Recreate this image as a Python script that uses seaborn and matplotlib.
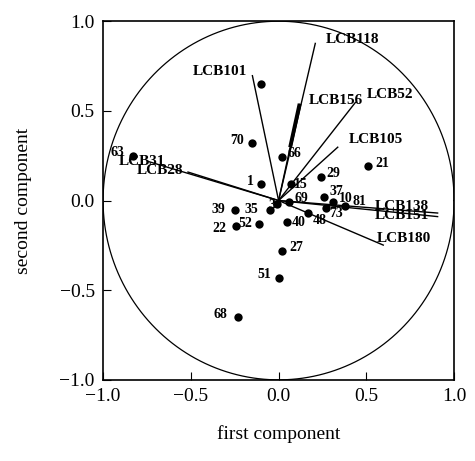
import numpy as np
import pandas as pd
import seaborn as sns
import matplotlib.pyplot as plt

# scores (observations)
obs_ids = ['7', '70', '63', '66', '21', '29', '1', '15', '39', '22', '52', '35', '3',
           '69', '37', '10', '73', '81', '40', '48', '27', '51', '68']
obs_x = [-0.10, -0.15, -0.83, 0.02, 0.51, 0.24, -0.10, 0.07, -0.25, -0.245, -0.11, -0.05, -0.01,
         0.06, 0.26, 0.31, 0.27, 0.38, 0.05, 0.17, 0.02, 0.005, -0.23]
obs_y = [0.65, 0.32, 0.25, 0.24, 0.19, 0.13, 0.09, 0.09, -0.05, -0.14, -0.13, -0.05, -0.02,
         -0.01, 0.02, -0.01, -0.04, -0.03, -0.12, -0.07, -0.28, -0.43, -0.65]

# loadings (variables)
var_names = ['LCB118', 'LCB101', 'LCB156', 'LCB52', 'LCB105', 'LCB31', 'LCB28',
             'LCB138', 'LCB151', 'LCB180']
var_x = [0.21, -0.15, 0.12, 0.44, 0.34, -0.75, -0.52, 0.91, 0.91, 0.60]
var_y = [0.88, 0.70, 0.54, 0.55, 0.30, 0.22, 0.16, -0.07, -0.09, -0.25]

df = pd.DataFrame({'id': obs_ids, 'x': obs_x, 'y': obs_y})

plt.rcParams['font.family'] = ['Liberation Serif', 'DejaVu Serif']
fig = plt.figure(figsize=(4.75, 4.61), dpi=100)
ax = fig.add_axes([0.217, 0.176, 0.739, 0.778])

# unit circle
t = np.linspace(0, 2 * np.pi, 400)
ax.plot(np.cos(t), np.sin(t), color='black', lw=0.9)

# loading vectors
for name, vx, vy in zip(var_names, var_x, var_y):
    ax.plot([0, vx], [0, vy], color='black', lw=1.0, solid_capstyle='butt')
    if name == 'LCB156':
        # thick upper part of this vector
        ax.plot([0.55 * vx, vx], [0.55 * vy, vy], color='black', lw=2.8,
                solid_capstyle='butt')

sns.scatterplot(data=df, x='x', y='y', color='black', s=36, edgecolor='black',
                linewidth=0, ax=ax, zorder=3)

# label offsets in points
obs_off = {'7': None, '70': (-16, 2), '63': (-16, 2), '66': (4, 3), '21': (5, 2),
           '29': (4, 3), '1': (-10, 2), '15': (2, 0), '39': (-17, 0), '22': (-17, -2),
           '52': (-15, 0), '35': (-18, 0), '3': (-6, -1), '69': (4, 3), '37': (4, 4),
           '10': (4, 3), '73': (2, -4), '81': (5, 3), '40': (3, 0), '48': (3, -5),
           '27': (5, 2), '51': (-16, 2), '68': (-18, 2)}
for i, x, y in zip(obs_ids, obs_x, obs_y):
    off = obs_off[i]
    if off is None:
        continue
    ax.annotate(i, (x, y), xytext=off, textcoords='offset points', fontsize=10,
                fontweight='bold', va='center', ha='left')

var_pos = {'LCB118': (0.27, 0.90, 'left'), 'LCB101': (-0.18, 0.72, 'right'),
           'LCB156': (0.17, 0.56, 'left'), 'LCB52': (0.50, 0.59, 'left'),
           'LCB105': (0.40, 0.34, 'left'), 'LCB31': (-0.91, 0.215, 'left'),
           'LCB28': (-0.81, 0.165, 'left'), 'LCB138': (0.55, -0.035, 'left'),
           'LCB151': (0.55, -0.085, 'left'), 'LCB180': (0.56, -0.21, 'left')}
for name in var_names:
    px, py, ha = var_pos[name]
    ax.text(px, py, name, fontsize=11, fontweight='bold', ha=ha, va='center')

ax.set_xlim(-1, 1)
ax.set_ylim(-1, 1)
ax.set_xticks([-1.0, -0.5, 0.0, 0.5, 1.0])
ax.set_yticks([-1.0, -0.5, 0.0, 0.5, 1.0])
ax.set_xticklabels(['−1.0', '−0.5', '0.0', '0.5', '1.0'])
ax.set_yticklabels(['−1.0', '−0.5', '0.0', '0.5', '1.0'])
ax.tick_params(direction='in', length=6, labelsize=14, pad=6)
for s in ax.spines.values():
    s.set_linewidth(1.2)
ax.set_xlabel('first component', fontsize=14, labelpad=14)
ax.set_ylabel('second component', fontsize=14, labelpad=20)

fig.savefig('out.png', dpi=100)
